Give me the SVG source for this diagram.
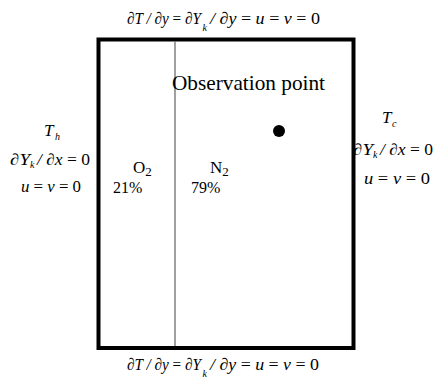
<svg xmlns="http://www.w3.org/2000/svg" width="437" height="385" viewBox="0 0 437 385">
<style>
text{font-family:"Liberation Serif","Times New Roman",serif;fill:#000}
.m{font-size:17px;font-style:italic}
.s{font-size:16px;font-style:italic}
.u{font-style:normal}
.sub{font-size:10px;font-style:italic}
.lbl{font-size:17px}
.pct{font-size:16px}
</style>
<rect width="437" height="385" fill="#fff"/>
<g id="domain">
<rect x="98.5" y="39.5" width="255" height="308.5" fill="none" stroke="#000" stroke-width="4"/>
<line x1="175" y1="41" x2="175" y2="346" stroke="#6e6e6e" stroke-width="1.3"/>
</g>
<g id="top-bc">
<text class="m" x="127" y="24" textLength="74" lengthAdjust="spacingAndGlyphs">∂T / ∂y <tspan class="u">=</tspan> ∂Y</text>
<text class="sub" x="202.5" y="31">k</text>
<text class="m" x="210" y="24" textLength="110" lengthAdjust="spacingAndGlyphs">/ ∂y <tspan class="u">=</tspan> u <tspan class="u">=</tspan> v <tspan class="u">= 0</tspan></text>
</g>
<g id="bottom-bc">
<text class="m" x="127" y="370" textLength="74" lengthAdjust="spacingAndGlyphs">∂T / ∂y <tspan class="u">=</tspan> ∂Y</text>
<text class="sub" x="202.5" y="377">k</text>
<text class="m" x="210" y="370" textLength="109" lengthAdjust="spacingAndGlyphs">/ ∂y <tspan class="u">=</tspan> u <tspan class="u">=</tspan> v <tspan class="u">= 0</tspan></text>
</g>
<g id="left-bc">
<text class="m" x="44" y="136">T</text>
<text class="sub" x="55" y="140">h</text>
<text class="s" x="10" y="165" textLength="20" lengthAdjust="spacingAndGlyphs">∂Y</text>
<text class="sub" x="30" y="168">k</text>
<text class="s" x="37" y="165" textLength="53" lengthAdjust="spacingAndGlyphs">/ ∂x <tspan class="u">= 0</tspan></text>
<text class="s" x="21" y="192" textLength="60" lengthAdjust="spacingAndGlyphs">u <tspan class="u">=</tspan> v <tspan class="u">= 0</tspan></text>
</g>
<g id="right-bc">
<text class="m" x="382" y="123">T</text>
<text class="sub" x="392" y="127">c</text>
<text class="s" x="353" y="155" textLength="20" lengthAdjust="spacingAndGlyphs">∂Y</text>
<text class="sub" x="373" y="158">k</text>
<text class="s" x="380" y="155" textLength="53" lengthAdjust="spacingAndGlyphs">/ ∂x <tspan class="u">= 0</tspan></text>
<text class="s" x="364" y="184" textLength="66" lengthAdjust="spacingAndGlyphs">u <tspan class="u">=</tspan> v <tspan class="u">= 0</tspan></text>
</g>
<g id="o2">
<text class="lbl" x="133" y="173">O<tspan font-size="13" dy="3">2</tspan></text>
<text class="pct" x="113" y="193">21%</text>
</g>
<g id="n2">
<text class="lbl" x="210" y="173">N<tspan font-size="13" dy="3">2</tspan></text>
<text class="pct" x="191" y="193">79%</text>
</g>
<g id="observation">
<text x="172" y="90" font-size="21" textLength="153" lengthAdjust="spacingAndGlyphs">Observation point</text>
<circle cx="279" cy="131" r="6" fill="#000"/>
</g>
</svg>
